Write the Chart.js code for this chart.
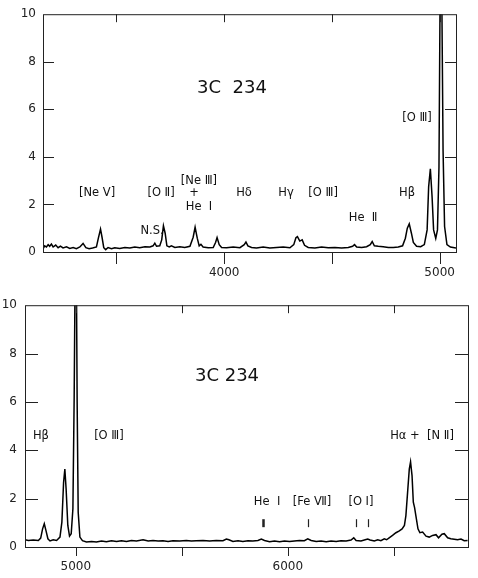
<!DOCTYPE html>
<html>
<head>
<meta charset="utf-8">
<script src="https://cdn.jsdelivr.net/npm/chart.js@4.4.1/dist/chart.umd.min.js"></script>
<style>
  html, body { margin: 0; padding: 0; background: #fff; }
  #topBox { position: absolute; left: 0; top: 0; width: 478px; height: 285px; }
  #bottomBox { position: absolute; left: 0; top: 290px; width: 478px; height: 288px; }
</style>
</head>
<body>
<div id="topBox"><canvas id="topCanvas"></canvas></div>
<div id="bottomBox"><canvas id="bottomCanvas"></canvas></div>
<script>
// blue part of the spectrum (upper panel)
const topWave = [3159,3167,3175,3183,3190,3198,3206,3218,3229,3240,3252,3268,3283,3299,3314,3330,3345,3358,3373,3389,3407,3416,3426,3433,3441,3450,3461,3477,3492,3515,3539,3562,3585,3608,3632,3655,3670,3678,3686,3701,3710,3718,3726,3734,3745,3755,3771,3794,3817,3841,3856,3865,3875,3884,3892,3902,3926,3949,3960,3967,3977,3988,4011,4042,4073,4093,4101,4110,4127,4150,4181,4212,4243,4274,4305,4323,4333,4340,4351,4362,4373,4390,4421,4452,4483,4514,4545,4576,4596,4605,4615,4638,4661,4678,4687,4697,4715,4738,4762,4785,4808,4828,4841,4850,4859,4869,4878,4893,4912,4929,4942,4949,4957,4965,4972,4982,4990,4997,5003,5009,5016,5023,5034,5050,5076];
const topFlux = [0.13,0.26,0.21,0.31,0.24,0.33,0.21,0.29,0.18,0.25,0.17,0.22,0.15,0.19,0.14,0.21,0.36,0.18,0.14,0.17,0.21,0.58,0.96,0.62,0.18,0.10,0.19,0.14,0.18,0.15,0.19,0.17,0.21,0.18,0.22,0.21,0.26,0.37,0.24,0.26,0.51,1.10,0.79,0.26,0.21,0.26,0.19,0.22,0.19,0.24,0.62,1.04,0.58,0.26,0.32,0.21,0.18,0.19,0.40,0.61,0.31,0.19,0.18,0.21,0.18,0.31,0.42,0.26,0.19,0.17,0.21,0.17,0.19,0.21,0.18,0.31,0.60,0.65,0.46,0.51,0.28,0.19,0.17,0.21,0.18,0.19,0.17,0.19,0.24,0.31,0.21,0.19,0.22,0.31,0.44,0.26,0.24,0.22,0.19,0.19,0.21,0.26,0.58,1.00,1.18,0.79,0.40,0.24,0.22,0.31,0.93,2.74,3.50,2.32,0.93,0.57,0.93,3.57,12,12,4.26,1.07,0.31,0.21,0.17];

// red part of the spectrum (lower panel)
const bottomWave = [4760,4776,4799,4823,4834,4843,4851,4859,4868,4878,4893,4909,4925,4934,4942,4948,4954,4962,4970,4978,4986,4992,4997,5002,5006,5011,5019,5031,5050,5074,5097,5121,5144,5168,5192,5215,5239,5262,5286,5317,5341,5364,5388,5411,5435,5458,5490,5521,5545,5568,5600,5631,5662,5694,5710,5722,5741,5765,5788,5812,5835,5859,5875,5890,5914,5937,5961,5984,6008,6031,6055,6078,6094,6110,6134,6157,6181,6204,6228,6251,6275,6298,6311,6322,6345,6365,6377,6388,6408,6424,6439,6455,6466,6478,6494,6510,6526,6539,6550,6557,6565,6573,6579,6586,6592,6598,6604,6614,6623,6636,6652,6667,6683,6699,6711,6727,6738,6754,6769,6785,6801,6817,6832,6848];
const bottomFlux = [0.30,0.27,0.29,0.27,0.37,0.75,0.96,0.68,0.34,0.25,0.30,0.27,0.41,1.03,2.67,3.22,2.40,0.89,0.45,0.55,1.58,6.2,12,12,6.0,1.44,0.41,0.26,0.21,0.23,0.21,0.25,0.22,0.26,0.23,0.26,0.23,0.27,0.25,0.30,0.25,0.27,0.25,0.26,0.23,0.26,0.25,0.27,0.25,0.26,0.27,0.25,0.27,0.26,0.33,0.30,0.23,0.26,0.23,0.26,0.25,0.27,0.33,0.27,0.22,0.25,0.22,0.25,0.23,0.25,0.27,0.26,0.34,0.27,0.23,0.25,0.22,0.25,0.23,0.26,0.25,0.29,0.38,0.27,0.25,0.30,0.33,0.29,0.25,0.30,0.26,0.34,0.30,0.38,0.48,0.59,0.67,0.75,0.89,1.30,2.26,3.22,3.52,2.95,1.85,1.63,1.30,0.75,0.59,0.62,0.45,0.41,0.48,0.51,0.38,0.53,0.55,0.38,0.34,0.32,0.30,0.33,0.26,0.27];

// axes
const fluxTicks = [0, 2, 4, 6, 8, 10];
const topWaveTicks = [3500, 4000, 4500, 5000];
const topWaveLabels = [4000, 5000];
const bottomWaveTicks = [5000, 5500, 6000, 6500];
const bottomWaveLabels = [5000, 6000];

// line identifications: text, wavelength, flux level
const topNoteText = ['3C  234', '[Ne \u2164]', '[O \u2161]', '[Ne \u2162]', '+', 'He  \u2160', 'H\u03b4', 'H\u03b3', '[O \u2162]', 'He  \u2161', 'H\u03b2', '[O \u2162]', 'N.S.'];
const topNoteWave = [4036, 3410, 3707, 3883, 3860, 3883, 4092, 4287, 4459, 4645, 4849, 4895, 3665];
const topNoteFlux = [6.88, 2.46, 2.46, 3.0, 2.46, 1.88, 2.46, 2.46, 2.46, 1.42, 2.46, 5.63, 0.88];

const bottomNoteText = ['3C 234', 'H\u03b2', '[O \u2162]', 'H\u03b1 +  [N \u2161]', 'He  \u2160', '[Fe \u2166]', '[O \u2160]'];
const bottomNoteWave = [5713, 4835, 5156, 6633, 5902, 6114, 6345];
const bottomNoteFlux = [7.05, 4.59, 4.59, 4.59, 1.84, 1.84, 1.84];

// short markers under the weak lines
const markerWave = [5883, 6095, 6322, 6378];
const markerLow = 0.82;
const markerHigh = 1.15;

const FONT = '"DejaVu Sans", sans-serif';

const framePlugin = {
  id: 'frame',
  afterDraw(chart, args, opts) {
    const ctx = chart.ctx;
    const a = chart.chartArea;
    const xs = chart.scales.x, ys = chart.scales.y;
    ctx.save();
    ctx.strokeStyle = '#222';
    ctx.lineWidth = 1;
    ctx.strokeRect(a.left + 0.5, a.top + 0.5, a.right - a.left, a.bottom - a.top);
    ctx.beginPath();
    opts.xTicks.forEach(v => {
      const px = Math.round(xs.getPixelForValue(v)) + 0.5;
      ctx.moveTo(px, a.top); ctx.lineTo(px, a.top + opts.topLen);
      ctx.moveTo(px, a.bottom); ctx.lineTo(px, a.bottom + opts.bottomLen);
    });
    fluxTicks.forEach(v => {
      if (v === 0 || v === 10) return;
      const py = Math.round(ys.getPixelForValue(v)) + 0.5;
      ctx.moveTo(a.left, py); ctx.lineTo(a.left + opts.sideLen, py);
      ctx.moveTo(a.right, py); ctx.lineTo(a.right - opts.sideLen, py);
    });
    ctx.stroke();

    ctx.fillStyle = '#111';
    ctx.textAlign = 'center';
    ctx.textBaseline = 'middle';
    opts.noteText.forEach((t, i) => {
      ctx.font = (i === 0 ? '18px ' : '11.5px ') + FONT;
      ctx.fillText(t, xs.getPixelForValue(opts.noteWave[i]), ys.getPixelForValue(opts.noteFlux[i]));
    });

    if (opts.markers) {
      opts.markers.forEach((w, i) => {
        const px = Math.round(xs.getPixelForValue(w)) + 0.5;
        ctx.lineWidth = i === 0 ? 2.5 : 1.2;
        ctx.beginPath();
        ctx.moveTo(px, ys.getPixelForValue(markerHigh));
        ctx.lineTo(px, ys.getPixelForValue(markerLow));
        ctx.stroke();
      });
    }
    ctx.restore();
  }
};

function spectrumChart(canvasId, wave, flux, xMin, xMax, xTicks, xLabels, box, frameOpts) {
  const points = wave.map((w, i) => ({ x: w, y: flux[i] }));
  return new Chart(document.getElementById(canvasId), {
    type: 'scatter',
    data: {
      datasets: [{
        data: points,
        showLine: true,
        borderColor: '#000',
        borderWidth: 1.5,
        pointRadius: 0,
        tension: 0
      }]
    },
    options: {
      responsive: true,
      maintainAspectRatio: false,
      animation: false,
      layout: { padding: { left: 0, right: box.right, top: box.top, bottom: 0 } },
      plugins: {
        legend: { display: false },
        tooltip: { enabled: false },
        frame: frameOpts
      },
      scales: {
        x: {
          type: 'linear',
          min: xMin,
          max: xMax,
          afterBuildTicks: s => { s.ticks = xTicks.map(v => ({ value: v })); },
          afterFit: s => { s.height = box.xHeight; },
          grid: { display: false, drawTicks: false },
          border: { display: false },
          ticks: {
            autoSkip: false,
            maxRotation: 0,
            padding: box.xPad,
            color: '#222',
            font: { family: FONT, size: 12 },
            callback: v => xLabels.includes(v) ? String(v) : ''
          }
        },
        y: {
          min: 0,
          max: 10,
          afterBuildTicks: s => { s.ticks = fluxTicks.map(v => ({ value: v })); },
          afterFit: s => { s.width = box.yWidth; },
          grid: { display: false, drawTicks: false },
          border: { display: false },
          ticks: {
            padding: box.yPad,
            color: '#222',
            font: { family: FONT, size: 12 },
            callback: v => String(v)
          }
        }
      }
    },
    plugins: [framePlugin]
  });
}

spectrumChart('topCanvas', topWave, topFlux, 3159, 5076, topWaveTicks, topWaveLabels,
  { right: 22, top: 12, xHeight: 33, yWidth: 43, xPad: 14, yPad: 7 },
  { xTicks: topWaveTicks, topLen: 8, bottomLen: 12, sideLen: 11,
    noteText: topNoteText, noteWave: topNoteWave, noteFlux: topNoteFlux });

spectrumChart('bottomCanvas', bottomWave, bottomFlux, 4760, 6850, bottomWaveTicks, bottomWaveLabels,
  { right: 10, top: 13, xHeight: 31, yWidth: 25, xPad: 13, yPad: 8 },
  { xTicks: bottomWaveTicks, topLen: 8, bottomLen: 9, sideLen: 13,
    noteText: bottomNoteText, noteWave: bottomNoteWave, noteFlux: bottomNoteFlux,
    markers: markerWave });
</script>
</body>
</html>
